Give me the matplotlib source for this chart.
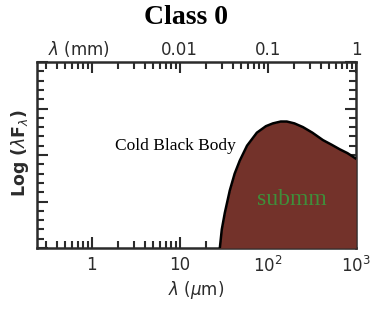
import matplotlib
matplotlib.use("Agg")
import matplotlib.pyplot as plt
from matplotlib.ticker import LogLocator, NullFormatter
import numpy as np

# curve: wavelength (micron) vs log(lambda F_lambda), arbitrary 0..1
wave_um = [28.5, 30, 32.5, 37, 42, 48, 58, 75, 95, 114, 140, 164, 200, 250, 320, 422, 530, 658, 800, 1000]
log_flux = [0.0, 0.10, 0.19, 0.31, 0.40, 0.47, 0.55, 0.62, 0.655, 0.67, 0.68, 0.68, 0.67, 0.65, 0.62, 0.58, 0.555, 0.53, 0.51, 0.48]

bottom_ticks = [1, 10, 100, 1000]
bottom_labels = ["1", "10", r"10$^2$", r"10$^3$"]
top_ticks_mm = [0.01, 0.1, 1]
top_labels = ["0.01", "0.1", "1"]

brown = "#73322a"
green = "#3f8f3a"
ink = "#2b2b2b"
lab = 12

fig = plt.figure(figsize=(3.71, 3.18), dpi=100)
ax = fig.add_axes([37 / 371, 70 / 318, 319 / 371, 186 / 318])

ax.fill_between(wave_um, 0, log_flux, color=brown, zorder=3, lw=0)
ax.plot(wave_um, log_flux, color="black", lw=1.8, zorder=4)

ax.set_xscale("log")
ax.set_xlim(0.24, 1000)
ax.set_ylim(0, 1)

for s in ax.spines.values():
    s.set_linewidth(1.8)
    s.set_color(ink)

ax.set_xticks(bottom_ticks)
ax.set_xticklabels(bottom_labels)
ax.xaxis.set_minor_locator(LogLocator(base=10, subs=np.arange(2, 10)))
ax.xaxis.set_minor_formatter(NullFormatter())
ax.set_yticks(np.arange(0, 1.01, 0.25))
ax.set_yticks(np.arange(0, 1.01, 0.05), minor=True)
ax.set_yticklabels([])
# decades in micron and mm fall on the same spots, so the top ticks come from ax itself
ax.tick_params(which="both", direction="in", top=True, left=True, right=True, color=ink, width=1.5)
ax.tick_params(which="major", length=8, labelsize=lab, labelcolor=ink, pad=6)
ax.tick_params(which="minor", length=5)

# top axis labels in mm, placed at the matching micron positions
xt = ax.get_xaxis_transform()
for mm, txt in zip(top_ticks_mm, top_labels):
    ax.text(mm * 1000.0, 1.015, txt, transform=xt, ha="center", va="bottom", fontsize=lab, color=ink)
ax.text(0.13, 1.015, r"$\lambda$ (mm)", transform=ax.transAxes, ha="center", va="bottom",
        fontsize=lab, color=ink)

ax.set_xlabel(r"$\lambda$ ($\mu$m)", fontsize=lab, color=ink, labelpad=2)
ax.set_ylabel(r"Log ($\lambda$F$_\lambda$)", fontsize=12.5, color=ink, fontweight="bold")
ax.yaxis.set_label_coords(-0.018, 0.51)

fig.text(0.5, 0.905, "Class 0", ha="center", va="bottom", fontsize=20, fontweight="bold",
         family="Liberation Serif")
ax.text(0.245, 0.55, "Cold Black Body", transform=ax.transAxes, fontsize=12.5,
        family="Liberation Serif", va="center", zorder=5)
ax.text(0.80, 0.26, "submm", transform=ax.transAxes, fontsize=17, color=green,
        family="Liberation Serif", ha="center", va="center", zorder=5)

fig.savefig("out.png", dpi=100)
